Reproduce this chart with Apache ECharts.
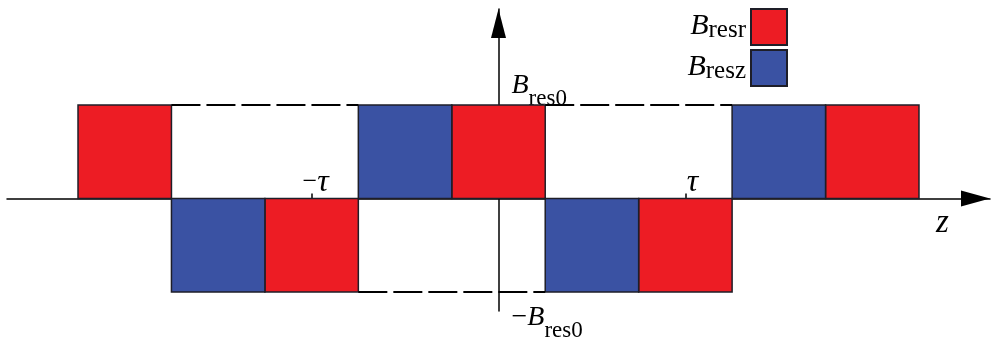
<!DOCTYPE html>
<html><head><meta charset="utf-8">
<script src="https://cdn.jsdelivr.net/npm/echarts@6/dist/echarts.min.js"></script>
<style>html,body{margin:0;padding:0;background:#fff}#c{width:996px;height:343px}</style>
</head><body><div id="c"></div>
<script>
// ---- data ----
const seriesNames = ['Bresr', 'Bresz'];
const bresrZ = [-4, -2, 0, 2, 4];
const bresrV = [1, -1, 1, -1, 1];
const breszZ = [-3, -1, 1, 3];
const breszV = [-1, 1, -1, 1];
const levelTicks = [1, -1];
const levelLabels = ['Bres0', '−Bres0'];
const zTicks = [-2, 2];
const zTickLabels = ['−τ', 'τ'];
const dashSegments = [[-3.5, -1.5, 1], [0.5, 2.5, 1], [-1.5, 0.5, -1]]; // [zStart, zEnd, level]

// ---- layout / styles ----
const FONT = 'Liberation Serif';
const RED = '#ED1C24', BLUE = '#3A52A3', EDGE = '#1e1e28';
const HALF = 0.5;
const GRID = { left: 7, right: 6, top: 9, bottom: 32 };
const X_MIN = -5.26, X_MAX = 5.26, Y_MIN = -1.203, Y_MAX = 2.027;
const W = 996, H = 343;
// labels are laid out from the grid edge, so offset them to the zero lines
const zeroX = GRID.left + (0 - X_MIN) / (X_MAX - X_MIN) * (W - GRID.left - GRID.right);
const zeroY = GRID.top + (Y_MAX - 0) / (Y_MAX - Y_MIN) * (H - GRID.top - GRID.bottom);
const gridBottomY = H - GRID.bottom;

function renderSquare(params, api) {
  const z = api.value(0), v = api.value(1);
  const a = api.coord([z - HALF, v]);
  const b = api.coord([z + HALF, 0]);
  return {
    type: 'rect',
    shape: { x: a[0], y: Math.min(a[1], b[1]), width: b[0] - a[0], height: Math.abs(b[1] - a[1]) },
    style: api.style({ stroke: EDGE, lineWidth: 1.5 })
  };
}

const chart = echarts.init(document.getElementById('c'), null, { renderer: 'canvas' });
chart.setOption({
  animation: false,
  backgroundColor: '#fff',
  grid: Object.assign({ containLabel: false, outerBoundsMode: 'none' }, GRID),
  legend: {
    data: seriesNames,
    orient: 'vertical', right: 208, top: 8, padding: 0,
    itemWidth: 36, itemHeight: 36, itemGap: 3,
    align: 'right', icon: 'rect', selectedMode: false,
    itemStyle: { borderColor: EDGE, borderWidth: 2 },
    formatter: n => '{b|' + n.charAt(0) + '}{s|' + n.slice(1) + '}',
    textStyle: {
      rich: {
        b: { fontFamily: FONT, fontStyle: 'italic', fontSize: 30, color: '#000', verticalAlign: 'top' },
        s: { fontFamily: FONT, fontSize: 25, color: '#000', verticalAlign: 'top', padding: [7, 0, 0, 0] }
      }
    }
  },
  xAxis: {
    type: 'value', min: X_MIN, max: X_MAX,
    splitLine: { show: false },
    axisLine: { onZero: true, lineStyle: { color: '#000', width: 1.5 },
      symbol: ['none', 'triangle'], symbolSize: [16, 29], symbolOffset: [0, -14.5] },
    axisTick: { show: true, inside: true, length: 5, customValues: zTicks, lineStyle: { color: '#000', width: 1.5 } },
    axisLabel: {
      show: true, inside: true, margin: 0 + (gridBottomY - zeroY), customValues: zTicks,
      formatter: v => { const s = zTickLabels[zTicks.indexOf(v)]; return s.charAt(0) === '−' ? '{m|−}{t|τ}' : '{tp|τ}'; },
      rich: {
        m: { fontFamily: FONT, fontSize: 26, color: '#000', verticalAlign: 'middle', padding: [0, 0, 0, 8] },
        t: { fontFamily: FONT, fontStyle: 'italic', fontSize: 32, color: '#000', verticalAlign: 'bottom' },
        tp: { fontFamily: FONT, fontStyle: 'italic', fontSize: 32, color: '#000', verticalAlign: 'bottom', padding: [0, 0, 0, 14] }
      }
    },
    name: 'z', nameLocation: 'end', nameGap: -54, nameMoveOverlap: false,
    nameTextStyle: { fontFamily: FONT, fontStyle: 'italic', fontSize: 33, color: '#000', verticalAlign: 'top', lineHeight: 50 }
  },
  yAxis: {
    type: 'value', min: Y_MIN, max: Y_MAX,
    splitLine: { show: false },
    axisLine: { onZero: true, lineStyle: { color: '#000', width: 1.5 },
      symbol: ['none', 'triangle'], symbolSize: [15, 29], symbolOffset: [0, -14.5] },
    axisTick: { show: false },
    axisLabel: {
      show: true, inside: true, margin: 13 + (zeroX - GRID.left), customValues: levelTicks,
      formatter: v => {
        const s = levelLabels[levelTicks.indexOf(v)];
        if (s.charAt(0) === '−') return '{dm|−}{db|' + s.charAt(1) + '}{ds|' + s.slice(2) + '}';
        return '{ub|' + s.charAt(0) + '}{us|' + s.slice(1) + '}';
      },
      rich: {
        ub: { fontFamily: FONT, fontStyle: 'italic', fontSize: 28, color: '#000', verticalAlign: 'top' },
        us: { fontFamily: FONT, fontSize: 23, color: '#000', verticalAlign: 'top', padding: [16, 0, 28, 0] },
        dm: { fontFamily: FONT, fontSize: 28, color: '#000', verticalAlign: 'top', padding: [62, 0, 0, 0] },
        db: { fontFamily: FONT, fontStyle: 'italic', fontSize: 28, color: '#000', verticalAlign: 'top', padding: [62, 0, 0, 0] },
        ds: { fontFamily: FONT, fontSize: 23, color: '#000', verticalAlign: 'top', padding: [78, 0, 0, 0] }
      }
    }
  },
  series: [
    {
      name: seriesNames[0], type: 'custom', renderItem: renderSquare,
      itemStyle: { color: RED, borderColor: EDGE, borderWidth: 2 },
      encode: { x: 0, y: 1 },
      data: bresrZ.map((z, i) => [z, bresrV[i]])
    },
    {
      name: seriesNames[1], type: 'custom', renderItem: renderSquare,
      itemStyle: { color: BLUE, borderColor: EDGE, borderWidth: 2 },
      encode: { x: 0, y: 1 },
      data: breszZ.map((z, i) => [z, breszV[i]])
    },
    {
      name: 'levels', type: 'line', data: [], silent: true,
      markLine: {
        silent: true, symbol: ['none', 'none'], label: { show: false },
        lineStyle: { type: [29, 6], color: '#000', width: 2 },
        emphasis: { disabled: true },
        data: dashSegments.map(s => [{ coord: [s[0], s[2]] }, { coord: [s[1], s[2]] }])
      }
    }
  ]
});
</script></body></html>
